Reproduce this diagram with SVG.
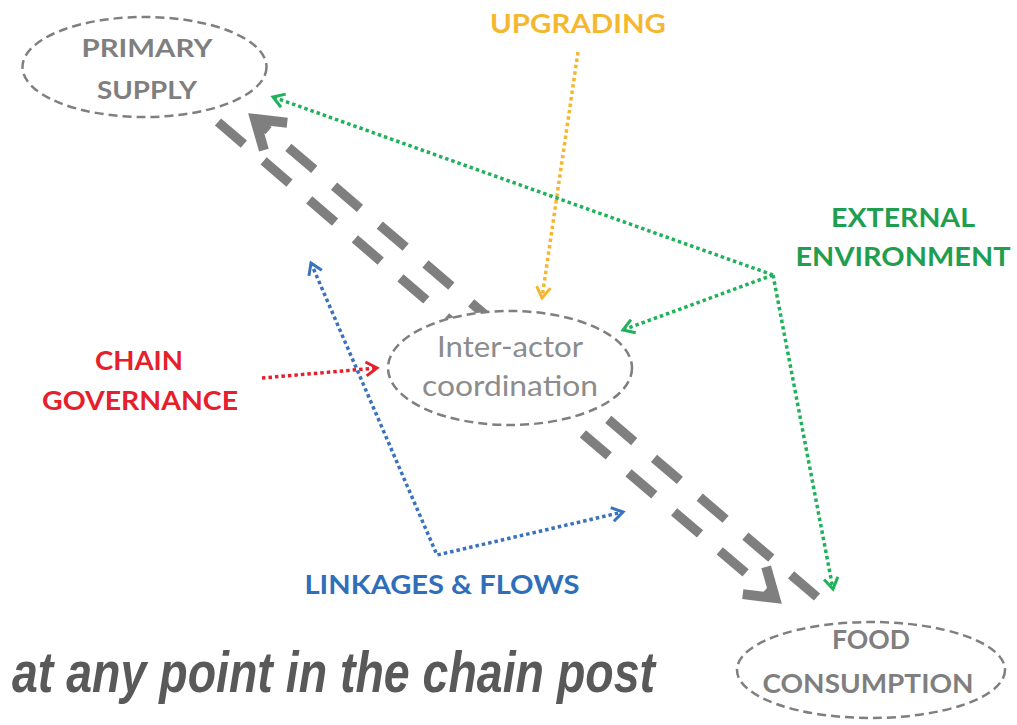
<svg xmlns="http://www.w3.org/2000/svg" width="1017" height="725" viewBox="0 0 1017 725">
<style>
.lbl{font-family:Lato,"Liberation Sans",Arial,sans-serif;font-weight:bold;text-anchor:middle}
.node-el{fill:#fff;stroke:#7f7f7f;stroke-width:2.5;stroke-dasharray:9 5}
.node-txt{fill:#7f7f7f}
.inter-txt{font-family:Lato,"Liberation Sans",Arial,sans-serif;fill:#8c8c8c;text-anchor:middle}
.flow{fill:none;stroke:#7f7f7f;stroke-width:9.5;stroke-dasharray:34 26}
.dot{fill:none;stroke-width:3.5;stroke-dasharray:3.5 3}
.bottom{font-family:"Liberation Sans",Arial,sans-serif;font-weight:bold;font-style:italic;fill:#595959}
</style>
<defs>
<marker id="hGray" markerUnits="userSpaceOnUse" viewBox="-40 -25 50 50" refX="0" refY="0" markerWidth="50" markerHeight="50" orient="auto">
<path d="M-27,-18 L0,0 L-27,18" fill="none" stroke="#7f7f7f" stroke-width="10"/>
</marker>
<marker id="hGreen" markerUnits="userSpaceOnUse" viewBox="-16 -10 20 20" refX="0" refY="0" markerWidth="20" markerHeight="20" orient="auto-start-reverse">
<path d="M-11,-7 L0,0 L-11,7" fill="none" stroke="#1fb25a" stroke-width="3"/>
</marker>
<marker id="hYellow" markerUnits="userSpaceOnUse" viewBox="-16 -10 20 20" refX="0" refY="0" markerWidth="20" markerHeight="20" orient="auto">
<path d="M-11,-7 L0,0 L-11,7" fill="none" stroke="#f5b730" stroke-width="3"/>
</marker>
<marker id="hRed" markerUnits="userSpaceOnUse" viewBox="-16 -10 20 20" refX="0" refY="0" markerWidth="20" markerHeight="20" orient="auto">
<path d="M-11,-7 L0,0 L-11,7" fill="none" stroke="#e5202b" stroke-width="3"/>
</marker>
<marker id="hBlue" markerUnits="userSpaceOnUse" viewBox="-16 -10 20 20" refX="0" refY="0" markerWidth="20" markerHeight="20" orient="auto-start-reverse">
<path d="M-11,-7 L0,0 L-11,7" fill="none" stroke="#3a72bd" stroke-width="3"/>
</marker>
</defs>
<rect width="1017" height="725" fill="#fff"/>

<g id="connectors">
<path class="flow" d="M218,122 L775,598" marker-end="url(#hGray)"/>
<path class="flow" d="M817,597 L255,119" marker-end="url(#hGray)"/>
<path class="dot" stroke="#f5b730" d="M578,52 L542,298" marker-end="url(#hYellow)"/>
<path class="dot" stroke="#1fb25a" d="M773,275 L273,97" marker-end="url(#hGreen)"/>
<path class="dot" stroke="#1fb25a" d="M773,275 L623,330" marker-end="url(#hGreen)"/>
<path class="dot" stroke="#1fb25a" d="M773,275 L833,589" marker-end="url(#hGreen)"/>
<path class="dot" stroke="#e5202b" d="M262,378 L377,368" marker-end="url(#hRed)"/>
<path class="dot" stroke="#3a72bd" d="M311,263 L437,555 L623,512" marker-start="url(#hBlue)" marker-end="url(#hBlue)"/>
</g>

<g id="primary-supply">
<ellipse class="node-el" cx="144.5" cy="67" rx="122" ry="50"/>
<text class="lbl node-txt" x="147" y="57" font-size="25" textLength="131" lengthAdjust="spacingAndGlyphs">PRIMARY</text>
<text class="lbl node-txt" x="147" y="99" font-size="25" textLength="100" lengthAdjust="spacingAndGlyphs">SUPPLY</text>
</g>

<g id="inter-actor">
<ellipse class="node-el" cx="510" cy="368" rx="122" ry="57"/>
<text class="inter-txt" x="510" y="357" font-size="28" textLength="146" lengthAdjust="spacingAndGlyphs">Inter-actor</text>
<text class="inter-txt" x="510" y="396" font-size="28" textLength="176" lengthAdjust="spacingAndGlyphs">coordination</text>
</g>

<g id="food-consumption">
<ellipse class="node-el" cx="871" cy="670" rx="134" ry="48"/>
<text class="lbl node-txt" x="871" y="649" font-size="26" textLength="78" lengthAdjust="spacingAndGlyphs">FOOD</text>
<text class="lbl node-txt" x="868" y="693" font-size="26" textLength="211" lengthAdjust="spacingAndGlyphs">CONSUMPTION</text>
</g>

<g id="upgrading">
<text class="lbl" fill="#f5b730" x="578" y="33" font-size="26" textLength="176" lengthAdjust="spacingAndGlyphs">UPGRADING</text>
</g>

<g id="external-environment">
<text class="lbl" fill="#1f9e50" x="903" y="227" font-size="27" textLength="144" lengthAdjust="spacingAndGlyphs">EXTERNAL</text>
<text class="lbl" fill="#1f9e50" x="903" y="266" font-size="27" textLength="215" lengthAdjust="spacingAndGlyphs">ENVIRONMENT</text>
</g>

<g id="chain-governance">
<text class="lbl" fill="#e5202b" x="139" y="370" font-size="27" textLength="88" lengthAdjust="spacingAndGlyphs">CHAIN</text>
<text class="lbl" fill="#e5202b" x="140" y="410" font-size="27" textLength="196" lengthAdjust="spacingAndGlyphs">GOVERNANCE</text>
</g>

<g id="linkages-flows">
<text class="lbl" fill="#2f6fba" x="442" y="594" font-size="27" textLength="275" lengthAdjust="spacingAndGlyphs">LINKAGES &amp; FLOWS</text>
</g>

<text class="bottom" transform="translate(12,692) scale(1,1.21)" x="0" y="0" font-size="47" textLength="643" lengthAdjust="spacingAndGlyphs">at any point in the chain post</text>
</svg>
